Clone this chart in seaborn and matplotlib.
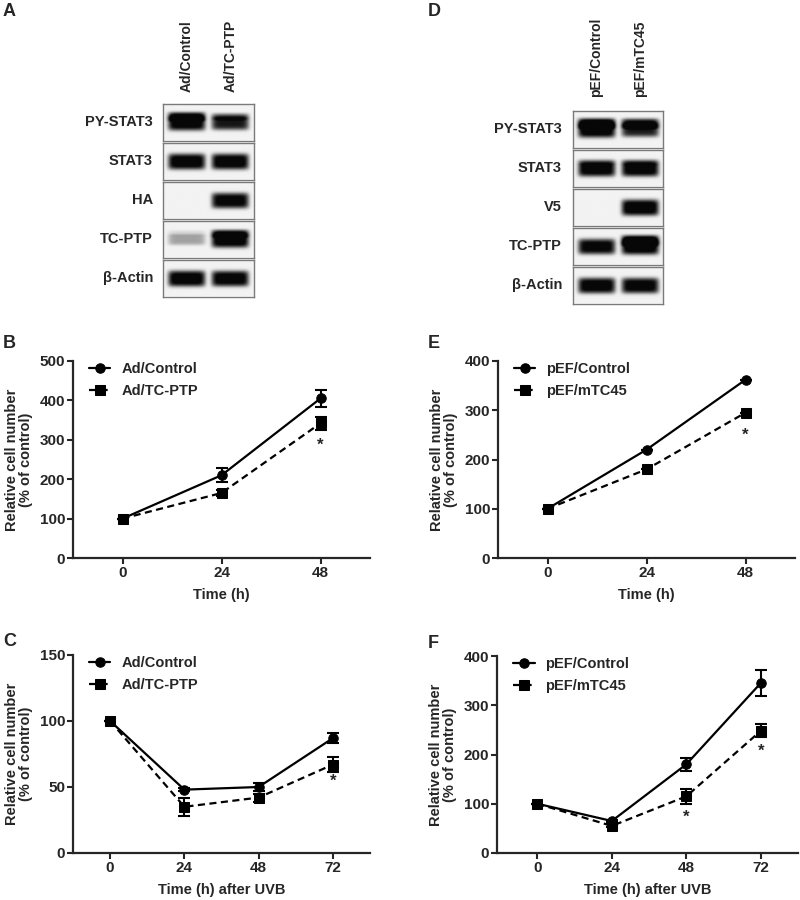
import numpy as np
import pandas as pd
import matplotlib
matplotlib.use("Agg")
import matplotlib.pyplot as plt
import seaborn as sns

# ---------------- data ----------------
# Western blots: band intensity per lane (0 = none, 1 = saturated)
blotA_lanes = ["Ad/Control", "Ad/TC-PTP"]
blotA_rows = ["PY-STAT3", "STAT3", "HA", "TC-PTP", "β-Actin"]
blotA_main = [[0.97, 0.82], [0.97, 0.97], [0.0, 0.93], [0.30, 1.0], [0.97, 0.95]]
blotA_lower = [[0.70, 0.30], [0.0, 0.0], [0.0, 0.0], [0.10, 0.50], [0.0, 0.0]]

blotD_lanes = ["pEF/Control", "pEF/mTC45"]
blotD_rows = ["PY-STAT3", "STAT3", "V5", "TC-PTP", "β-Actin"]
blotD_main = [[1.0, 0.80], [0.97, 0.97], [0.0, 1.0], [0.92, 1.0], [0.95, 0.93]]
blotD_lower = [[0.95, 0.85], [0.12, 0.15], [0.0, 0.0], [0.0, 0.97], [0.0, 0.0]]

# Growth curves
timeB = [0, 24, 48]
B_ctrl = [100, 210, 405]
B_ctrl_err = [0, 18, 22]
B_trt = [100, 165, 342]
B_trt_err = [0, 8, 17]
B_labels = ["Ad/Control", "Ad/TC-PTP"]
B_star = [(48, 287)]

timeE = [0, 24, 48]
E_ctrl = [100, 220, 362]
E_ctrl_err = [0, 0, 0]
E_trt = [100, 180, 295]
E_trt_err = [0, 0, 0]
E_labels = ["pEF/Control", "pEF/mTC45"]
E_star = [(48, 250)]

timeC = [0, 24, 48, 72]
C_ctrl = [100, 48, 50, 87]
C_ctrl_err = [0, 1, 3, 4]
C_trt = [100, 35, 42, 67]
C_trt_err = [0, 7, 3, 6]
C_labels = ["Ad/Control", "Ad/TC-PTP"]
C_star = [(72, 54)]

timeF = [0, 24, 48, 72]
F_ctrl = [100, 65, 180, 345]
F_ctrl_err = [0, 3, 13, 27]
F_trt = [100, 55, 115, 248]
F_trt_err = [0, 3, 15, 13]
F_labels = ["pEF/Control", "pEF/mTC45"]
F_star = [(48, 73), (72, 207)]

# ---------------- style ----------------
sns.set_style("ticks")
plt.rcParams["font.family"] = ["Liberation Sans", "DejaVu Sans"]
plt.rcParams["font.weight"] = "bold"
plt.rcParams["axes.labelweight"] = "bold"

W, H = 800, 900
fig = plt.figure(figsize=(W / 100, H / 100), dpi=100)


def axes_px(l, t, r, b):
    return fig.add_axes([l / W, 1 - b / H, (r - l) / W, (b - t) / H])


def band_image(main, lower, nx=200, ny=60):
    x = np.linspace(0, 1, nx)
    y = np.linspace(0, 1, ny)
    X, Y = np.meshgrid(x, y)
    dark = np.zeros_like(X)
    centers = [0.26, 0.74]
    for i, c in enumerate(centers):
        fx = np.exp(-((X - c) / 0.205) ** 8)
        m = main[i]
        if m > 0:
            hh = 0.12 + 0.10 * m
            dark += 1.15 * m * fx * np.exp(-((Y - 0.53) / hh) ** 4)
        lo = lower[i]
        if lo > 0:
            hh = 0.08 + 0.07 * lo
            dark += lo * fx * np.exp(-((Y - 0.36) / hh) ** 4)
    dark = np.clip(dark, 0, 1)
    img = 0.95 - 0.92 * dark
    return img


def draw_blot(x0, x1, top, row_h, gap, rows, main, lower, lanes, lane_text_bottom, label_x):
    for k, name in enumerate(rows):
        t = top + k * (row_h + gap)
        b = t + row_h
        ax = axes_px(x0, t, x1, b)
        ax.imshow(band_image(main[k], lower[k]), cmap="gray", vmin=0, vmax=1,
                  aspect="auto", extent=[0, 1, 0, 1], origin="upper",
                  interpolation="bilinear")
        ax.set_xlim(0, 1)
        ax.set_ylim(0, 1)
        ax.set_xticks([])
        ax.set_yticks([])
        for s in ax.spines.values():
            s.set_visible(True)
            s.set_color("#7a7a7a")
            s.set_linewidth(1.0)
        fig.text(label_x / W, 1 - (t + row_h / 2) / H, name, ha="right", va="center",
                 fontsize=10.5, fontweight="bold")
    for i, lane in enumerate(lanes):
        cx = x0 + (x1 - x0) * [0.26, 0.74][i]
        fig.text(cx / W, 1 - lane_text_bottom / H, lane, rotation=90, ha="center",
                 va="bottom", fontsize=10, fontweight="bold")


draw_blot(163, 254, 104, 36.5, 2.5, blotA_rows, blotA_main, blotA_lower, blotA_lanes, 92, 153)
draw_blot(573, 663, 111, 36.5, 2.5, blotD_rows, blotD_main, blotD_lower, blotD_lanes, 97, 562)


def growth(ax, t, ctrl, ctrl_err, trt, trt_err, labels, stars, xlim, ylim, yticks, xlabel):
    df = pd.DataFrame({
        "time": list(t) + list(t),
        "value": list(ctrl) + list(trt),
        "group": [labels[0]] * len(t) + [labels[1]] * len(t),
    })
    sns.lineplot(data=df, x="time", y="value", hue="group", style="group",
                 markers={labels[0]: "o", labels[1]: "s"},
                 dashes={labels[0]: "", labels[1]: (3.2, 2.0)},
                 palette=["black", "black"], markersize=6.8, linewidth=1.6,
                 markeredgecolor="black", ax=ax)
    ax.errorbar(t, ctrl, yerr=ctrl_err, fmt="none", ecolor="black", elinewidth=1.5,
                capsize=4, capthick=1.5)
    ax.errorbar(t, trt, yerr=trt_err, fmt="none", ecolor="black", elinewidth=1.5,
                capsize=4, capthick=1.5)
    for sx, sy in stars:
        ax.text(sx, sy, "*", ha="center", va="center", fontsize=12, fontweight="bold")
    ax.set_xlim(*xlim)
    ax.set_ylim(*ylim)
    ax.set_xticks(t)
    ax.set_yticks(yticks)
    sns.despine(ax=ax)
    for s in ["left", "bottom"]:
        ax.spines[s].set_linewidth(1.6)
    ax.tick_params(direction="out", length=4, width=1.5, labelsize=11, pad=1.5)
    for lab in ax.get_xticklabels() + ax.get_yticklabels():
        lab.set_fontweight("bold")
    ax.set_xlabel(xlabel, fontsize=10.5, fontweight="bold", labelpad=6)
    ax.set_ylabel("Relative cell number\n(% of control)", fontsize=10.5,
                  fontweight="bold", linespacing=1.0)
    ax.yaxis.set_label_coords(-0.133, 0.5)
    handles, lbls = ax.get_legend_handles_labels()
    leg = ax.legend(handles, lbls, loc="upper left", bbox_to_anchor=(0.045, 1.01),
                    frameon=False, fontsize=10.5, handlelength=1.45,
                    handletextpad=0.75, labelspacing=0.55, borderaxespad=0, borderpad=0.2)
    for txt in leg.get_texts():
        txt.set_fontweight("bold")


axB = axes_px(73, 361, 370, 558)
growth(axB, timeB, B_ctrl, B_ctrl_err, B_trt, B_trt_err, B_labels, B_star,
       (-12, 60), (0, 500), [0, 100, 200, 300, 400, 500], "Time (h)")
axE = axes_px(498, 361, 795, 558)
growth(axE, timeE, E_ctrl, E_ctrl_err, E_trt, E_trt_err, E_labels, E_star,
       (-12, 60), (0, 400), [0, 100, 200, 300, 400], "Time (h)")
axC = axes_px(73, 655, 370, 853)
growth(axC, timeC, C_ctrl, C_ctrl_err, C_trt, C_trt_err, C_labels, C_star,
       (-12, 84), (0, 150), [0, 50, 100, 150], "Time (h) after UVB")
axF = axes_px(497, 656, 798, 853)
growth(axF, timeF, F_ctrl, F_ctrl_err, F_trt, F_trt_err, F_labels, F_star,
       (-13, 84), (0, 400), [0, 100, 200, 300, 400], "Time (h) after UVB")

for lbl, x, y in [("A", 3, 11), ("D", 428, 11), ("B", 3, 343), ("E", 428, 343),
                  ("C", 3, 642), ("F", 428, 643)]:
    fig.text(x / W, 1 - y / H, lbl, ha="left", va="center", fontsize=13, fontweight="bold")

fig.savefig("out.png", dpi=100, facecolor="white")
